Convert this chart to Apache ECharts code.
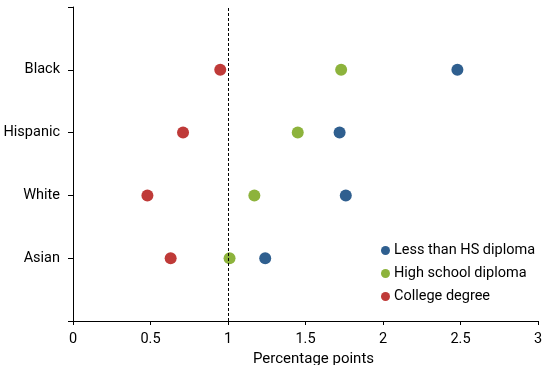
<!DOCTYPE html>
<html><head><meta charset="utf-8">
<script src="https://cdn.jsdelivr.net/npm/echarts@6/dist/echarts.min.js"></script>
<style>html,body{margin:0;padding:0;background:#fff}#c{width:550px;height:365px}</style>
</head><body><div id="c"></div>
<script>
const categories = ['Asian', 'White', 'Hispanic', 'Black'];
const seriesNames = ['Less than HS diploma', 'High school diploma', 'College degree'];
const lessThanHS = [1.24, 1.76, 1.72, 2.48];
const highSchool = [1.01, 1.17, 1.45, 1.73];
const college = [0.63, 0.48, 0.71, 0.95];
const xTicks = [0, 0.5, 1, 1.5, 2, 2.5, 3];
const referenceX = 1;
const colors = ['#2f5f8f', '#8db33c', '#bf3a38'];

const toPoints = arr => arr.map((v, i) => [v, i + 1]);
const chart = echarts.init(document.getElementById('c'));
const font = 'Roboto';
const fs = 14.5;
const tc = '#000';
chart.setOption({
  animation: false,
  grid: {left: 73, right: 12, top: 7, bottom: 44, containLabel: false, outerBoundsMode: 'none'},
  legend: {
    orient: 'vertical', left: 376, top: 237,
    itemWidth: 9, itemHeight: 9, itemGap: 6,
    icon: 'circle',
    textStyle: {fontFamily: font, fontSize: fs, color: tc, lineHeight: 17, padding: [0,0,0,-1]},
    data: seriesNames
  },
  xAxis: {
    type: 'value', min: 0, max: 3, interval: 0.5,
    name: 'Percentage points', nameLocation: 'middle', nameGap: 28,
    nameTextStyle: {fontFamily: font, fontSize: 15, color: tc, padding: [0, 0, 0, 16]},
    axisLine: {lineStyle: {color: '#000', width: 1}},
    axisTick: {show: true, length: 4, lineStyle: {color: '#000'}},
    axisLabel: {fontFamily: font, fontSize: fs, color: tc, margin: 11,
      formatter: v => xTicks.includes(v) ? String(v) : ''},
    splitLine: {show: false}
  },
  yAxis: {
    type: 'value', min: 0, max: 5, interval: 1,
    axisLine: {show: true, lineStyle: {color: '#000', width: 1}},
    axisTick: {show: true, length: 5, lineStyle: {color: '#000'}},
    axisLabel: {fontFamily: font, fontSize: fs, color: tc, margin: 13,
      formatter: v => (v >= 1 && v <= categories.length) ? categories[v - 1] : ''},
    splitLine: {show: false}
  },
  series: [
    {name: seriesNames[2], type: 'scatter', symbolSize: 12, itemStyle: {color: colors[2], opacity: 1},
     data: toPoints(college),
     markLine: {silent: true, symbol: 'none', label: {show: false},
       lineStyle: {color: '#000', type: [3, 2], width: 1},
       data: [{xAxis: referenceX}]}},
    {name: seriesNames[1], type: 'scatter', symbolSize: 12, itemStyle: {color: colors[1], opacity: 1},
     data: toPoints(highSchool)},
    {name: seriesNames[0], type: 'scatter', symbolSize: 12, itemStyle: {color: colors[0], opacity: 1},
     data: toPoints(lessThanHS)}
  ]
});
</script></body></html>
